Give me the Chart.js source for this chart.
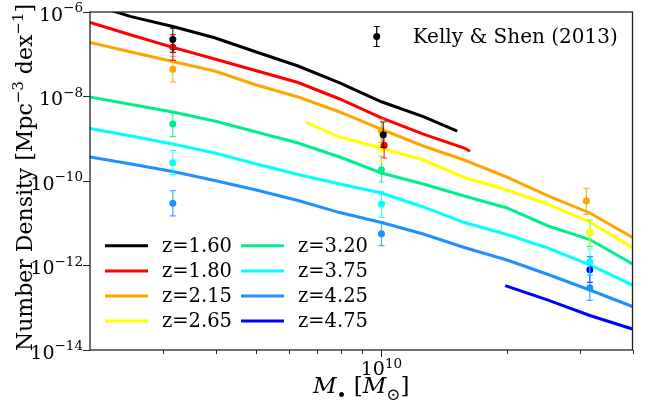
<!DOCTYPE html>
<html>
<head>
<meta charset="utf-8">
<script src="https://cdn.jsdelivr.net/npm/chart.js@4.4.1/dist/chart.umd.min.js"></script>
<style>
  html, body { margin: 0; padding: 0; background: #ffffff; }
  #wrap { width: 648px; height: 405px; }
</style>
</head>
<body>
<div id="wrap"><canvas id="c" width="648" height="405"></canvas></div>
<script>
const SERIF = "'DejaVu Serif', 'Liberation Serif', serif";

// redshift labels and line colours
const redshifts = ['z=1.60', 'z=1.80', 'z=2.15', 'z=2.65', 'z=3.20', 'z=3.75', 'z=4.25', 'z=4.75'];
const colors = ['#000000', '#ff0000', '#ffa500', '#ffff00', '#00ee8c', '#00ffff', '#1e90ff', '#0000ff'];

// model mass functions: black-hole mass [M_sun] and number density [Mpc^-3 dex^-1]
const massFull = [2.0e9, 2.51e9, 3.16e9, 3.98e9, 5.01e9, 6.31e9, 7.94e9, 1.0e10, 1.26e10, 1.58e10, 2.0e10, 2.51e10, 3.16e10, 4.0e10];
const massZ160 = [2.0e9, 2.51e9, 3.16e9, 3.98e9, 5.01e9, 6.31e9, 7.94e9, 1.0e10, 1.26e10, 1.52e10];
const densZ160 = [1.55e-6, 7.78e-7, 4.54e-7, 2.45e-7, 1.13e-7, 5.27e-8, 2.09e-8, 7.50e-9, 3.33e-9, 1.52e-9];
const massZ180 = [2.0e9, 2.51e9, 3.16e9, 3.98e9, 5.01e9, 6.31e9, 7.94e9, 1.0e10, 1.26e10, 1.58e10, 1.63e10];
const densZ180 = [5.64e-7, 2.86e-7, 1.45e-7, 7.73e-8, 4.08e-8, 2.14e-8, 8.73e-9, 3.10e-9, 1.29e-9, 6.04e-10, 5.05e-10];
const densZ215 = [1.90e-7, 1.13e-7, 6.73e-8, 4.02e-8, 1.87e-8, 9.73e-9, 4.30e-9, 1.66e-9, 6.73e-10, 3.14e-10, 1.24e-10, 4.42e-11, 1.75e-11, 4.60e-12];
const massZ265 = [6.58e9, 7.94e9, 1.0e10, 1.26e10, 1.58e10, 2.0e10, 2.51e10, 3.16e10, 4.0e10];
const densZ265 = [2.49e-9, 1.10e-9, 6.04e-10, 3.14e-10, 1.21e-10, 6.12e-11, 2.78e-11, 1.07e-11, 2.67e-12];
const densZ320 = [9.73e-9, 6.47e-9, 4.30e-9, 2.63e-9, 1.45e-9, 7.92e-10, 3.70e-10, 1.55e-10, 8.49e-11, 4.42e-11, 2.30e-11, 8.61e-12, 4.12e-12, 1.09e-12];
const densZ375 = [1.75e-9, 1.16e-9, 7.52e-10, 4.60e-10, 2.52e-10, 1.43e-10, 8.49e-11, 5.20e-11, 2.43e-11, 1.04e-11, 5.42e-12, 2.59e-12, 1.03e-12, 3.45e-13];
const densZ425 = [3.70e-10, 2.52e-10, 1.68e-10, 1.03e-10, 6.12e-11, 3.45e-11, 1.79e-11, 1.04e-11, 5.57e-12, 2.67e-12, 1.35e-12, 6.12e-13, 2.63e-13, 1.07e-13];
const massZ475 = [1.98e10, 2.51e10, 3.16e10, 4.0e10];
const densZ475 = [3.33e-13, 1.52e-13, 6.56e-14, 3.14e-14];

// Kelly & Shen (2013) measurements: mass, density, lower and upper error limits
const ksMassZ160 = [3.16e9, 1.01e10];
const ksDensZ160 = [2.23e-7, 1.25e-9];
const ksLoZ160   = [1.11e-7, 6.25e-10];
const ksHiZ160   = [4.11e-7, 2.49e-9];
const ksMassZ180 = [3.16e9, 1.015e10];
const ksDensZ180 = [1.46e-7, 7.00e-10];
const ksLoZ180   = [7.19e-8, 3.50e-10];
const ksHiZ180   = [2.90e-7, 1.40e-9];
const ksMassZ215 = [3.16e9, 1.0e10, 3.10e10];
const ksDensZ215 = [4.41e-8, 1.55e-9, 3.37e-11];
const ksLoZ215   = [2.20e-8, 8.22e-10, 1.63e-11];
const ksHiZ215   = [8.93e-8, 2.93e-9, 6.71e-11];
const ksMassZ265 = [1.0e10, 3.16e10];
const ksDensZ265 = [6.04e-10, 6.11e-12];
const ksLoZ265   = [3.0e-10, 3.0e-12];
const ksHiZ265   = [1.2e-9, 1.2e-11];
const ksMassZ320 = [3.16e9, 1.0e10, 3.16e10];
const ksDensZ320 = [2.23e-9, 1.85e-10, 6.11e-12];
const ksLoZ320   = [1.12e-9, 9.46e-11, 2.79e-12];
const ksHiZ320   = [4.30e-9, 3.85e-10, 1.19e-11];
const ksMassZ375 = [3.16e9, 1.0e10, 3.16e10];
const ksDensZ375 = [2.71e-10, 2.81e-11, 1.23e-12];
const ksLoZ375   = [1.41e-10, 1.38e-11, 5.96e-13];
const ksHiZ375   = [5.33e-10, 5.58e-11, 2.46e-12];
const ksMassZ425 = [3.16e9, 1.0e10, 3.16e10];
const ksDensZ425 = [2.96e-11, 5.66e-12, 2.99e-13];
const ksLoZ425   = [1.49e-11, 2.94e-12, 1.50e-13];
const ksHiZ425   = [5.89e-11, 1.09e-11, 5.96e-13];
const ksMassZ475 = [3.16e10];
const ksDensZ475 = [7.96e-13];
const ksLoZ475   = [4.00e-13];
const ksHiZ475   = [1.61e-12];

// axis ticks
const xMajorTicks = [1e10];
const xMinorTicks = [3e9, 4e9, 5e9, 6e9, 7e9, 8e9, 9e9, 2e10, 3e10, 4e10];
const yMajorTicks = [1e-14, 1e-12, 1e-10, 1e-8, 1e-6];

const modelMass = [massZ160, massZ180, massFull, massZ265, massFull, massFull, massFull, massZ475];
const modelDens = [densZ160, densZ180, densZ215, densZ265, densZ320, densZ375, densZ425, densZ475];
const ksMass = [ksMassZ160, ksMassZ180, ksMassZ215, ksMassZ265, ksMassZ320, ksMassZ375, ksMassZ425, ksMassZ475];
const ksDens = [ksDensZ160, ksDensZ180, ksDensZ215, ksDensZ265, ksDensZ320, ksDensZ375, ksDensZ425, ksDensZ475];
const ksLo = [ksLoZ160, ksLoZ180, ksLoZ215, ksLoZ265, ksLoZ320, ksLoZ375, ksLoZ425, ksLoZ475];
const ksHi = [ksHiZ160, ksHiZ180, ksHiZ215, ksHiZ265, ksHiZ320, ksHiZ375, ksHiZ425, ksHiZ475];

function exponentText(v) {
  return String(Math.round(Math.log10(v))).replace('-', '\u2212');
}

function withAlpha(hex, a) {
  const n = parseInt(hex.slice(1), 16);
  return `rgba(${(n >> 16) & 255},${(n >> 8) & 255},${n & 255},${a})`;
}

const datasets = [];
redshifts.forEach((z, i) => {
  datasets.push({
    type: 'line',
    label: z,
    data: modelMass[i].map((m, k) => ({ x: m, y: modelDens[i][k] })),
    borderColor: colors[i],
    backgroundColor: colors[i],
    borderWidth: 3,
    pointRadius: 0,
    pointHoverRadius: 0,
    tension: 0,
    fill: false,
    clip: 0,
    order: 2
  });
});
redshifts.forEach((z, i) => {
  datasets.push({
    type: 'scatter',
    label: 'Kelly & Shen (2013) ' + z,
    data: ksMass[i].map((m, k) => ({ x: m, y: ksDens[i][k], lo: ksLo[i][k], hi: ksHi[i][k] })),
    backgroundColor: colors[i],
    borderWidth: 0,
    pointRadius: 3.5,
    pointHoverRadius: 3.5,
    showLine: false,
    clip: false,
    order: 1,
    errColor: withAlpha(colors[i], 0.8)
  });
});

// vertical error bars with caps, placed through the chart's scales
const errorBars = {
  id: 'errorBars',
  beforeDatasetDraw(chart, args) {
    const ds = chart.data.datasets[args.index];
    if (!ds.errColor) return;
    const xs = chart.scales.x, ys = chart.scales.y, ctx = chart.ctx;
    ctx.save();
    ctx.strokeStyle = ds.errColor;
    ctx.lineWidth = 1.2;
    ds.data.forEach(p => {
      const px = xs.getPixelForValue(p.x);
      const yl = ys.getPixelForValue(p.lo), yh = ys.getPixelForValue(p.hi);
      ctx.beginPath();
      ctx.moveTo(px, yl); ctx.lineTo(px, yh);
      ctx.moveTo(px - 3, yl); ctx.lineTo(px + 3, yl);
      ctx.moveTo(px - 3, yh); ctx.lineTo(px + 3, yh);
      ctx.stroke();
    });
    ctx.restore();
  }
};

// draws a run of text pieces, each with its own font and vertical shift
function drawRuns(ctx, parts, x, y) {
  parts.forEach(p => {
    ctx.font = p.f;
    ctx.fillText(p.t, x, y + p.dy);
    x += ctx.measureText(p.t).width;
  });
}
function runsWidth(ctx, parts) {
  let w = 0;
  parts.forEach(p => { ctx.font = p.f; w += ctx.measureText(p.t).width; });
  return w;
}

// tick labels in 10^n form, frame, minor ticks, legends and axis titles
const decorations = {
  id: 'decorations',
  afterDatasetsDraw(chart) {
    const ctx = chart.ctx, a = chart.chartArea, xs = chart.scales.x, ys = chart.scales.y;
    const tickMain = `19px ${SERIF}`, tickSup = `13.5px ${SERIF}`;
    ctx.save();
    ctx.fillStyle = '#000';
    ctx.textBaseline = 'alphabetic';
    ctx.textAlign = 'left';

    // y tick labels
    yMajorTicks.forEach(v => {
      const py = ys.getPixelForValue(v);
      const parts = [{ t: '10', f: tickMain, dy: 0 }, { t: exponentText(v), f: tickSup, dy: -8.5 }];
      const w = runsWidth(ctx, parts);
      drawRuns(ctx, parts, a.left - 7 - w, py + 8.5);
    });
    // x tick labels
    xMajorTicks.forEach(v => {
      const px = xs.getPixelForValue(v);
      const parts = [{ t: '10', f: tickMain, dy: 0 }, { t: exponentText(v), f: tickSup, dy: -7.5 }];
      const w = runsWidth(ctx, parts);
      drawRuns(ctx, parts, px - w / 2, 375);
    });

    // minor ticks on the mass axis
    ctx.strokeStyle = '#222';
    ctx.lineWidth = 1;
    xMinorTicks.forEach(v => {
      const px = Math.round(xs.getPixelForValue(v)) + 0.5;
      ctx.beginPath(); ctx.moveTo(px, a.bottom); ctx.lineTo(px, a.bottom + 4); ctx.stroke();
    });
    // axes frame
    ctx.lineWidth = 1.3;
    ctx.strokeStyle = '#222';
    ctx.strokeRect(a.left, a.top, a.right - a.left, a.bottom - a.top);

    // redshift legend, two columns
    ctx.font = `19.5px ${SERIF}`;
    ctx.textBaseline = 'middle';
    const rows = [245.7, 271, 296, 321];
    const cols = [{ x0: 105, x1: 148, tx: 162 }, { x0: 241, x1: 284, tx: 298 }];
    redshifts.forEach((z, i) => {
      const c = cols[Math.floor(i / 4)], y = rows[i % 4];
      ctx.strokeStyle = colors[i];
      ctx.lineWidth = 3;
      ctx.beginPath(); ctx.moveTo(c.x0, y); ctx.lineTo(c.x1, y); ctx.stroke();
      ctx.fillText(z, c.tx, y + 1);
    });

    // data legend
    const mx = 376.7, my = 36.5;
    ctx.strokeStyle = '#000';
    ctx.lineWidth = 1.2;
    ctx.beginPath();
    ctx.moveTo(mx, 26.5); ctx.lineTo(mx, 46.5);
    ctx.moveTo(mx - 3, 26.5); ctx.lineTo(mx + 3, 26.5);
    ctx.moveTo(mx - 3, 46.5); ctx.lineTo(mx + 3, 46.5);
    ctx.stroke();
    ctx.beginPath(); ctx.arc(mx, my, 3.5, 0, Math.PI * 2); ctx.fill();
    ctx.font = `20px ${SERIF}`;
    ctx.fillText('Kelly & Shen (2013)', 412.7, 38);

    // y-axis title with superscripts
    const main = `22px ${SERIF}`, small = `15px ${SERIF}`;
    const yParts = [
      { t: 'Number Density [Mpc', f: main, dy: 0 },
      { t: '\u22123', f: small, dy: -9 },
      { t: ' dex', f: main, dy: 0 },
      { t: '\u22121', f: small, dy: -9 },
      { t: ']', f: main, dy: 0 }
    ];
    ctx.save();
    ctx.translate(32, 177.5);
    ctx.rotate(-Math.PI / 2);
    ctx.textBaseline = 'alphabetic';
    drawRuns(ctx, yParts, -runsWidth(ctx, yParts) / 2, 0);
    ctx.restore();

    // x-axis title: M_bullet [M_sun]
    const xMain = `23px ${SERIF}`, xIt = `italic 23px ${SERIF}`, xSub = `17px ${SERIF}`;
    const xParts = [
      { t: 'M', f: xIt, dy: 0 },
      { t: '\u2022', f: xSub, dy: 8 },
      { t: ' [', f: xMain, dy: 0 },
      { t: 'M', f: xIt, dy: 0 },
      { t: '\u2299', f: xSub, dy: 7 },
      { t: ']', f: xMain, dy: 0 }
    ];
    ctx.textBaseline = 'alphabetic';
    drawRuns(ctx, xParts, (a.left + a.right) / 2 - runsWidth(ctx, xParts) / 2, 393);
    ctx.restore();
  }
};

Chart.defaults.font.family = SERIF;
Chart.defaults.color = '#000';

new Chart(document.getElementById('c'), {
  data: { datasets },
  options: {
    responsive: false,
    animation: false,
    devicePixelRatio: 1,
    layout: { padding: { left: 0, top: 12, right: 15.5, bottom: 0 } },
    plugins: { legend: { display: false }, tooltip: { enabled: false }, title: { display: false } },
    events: [],
    scales: {
      x: {
        type: 'logarithmic',
        min: 2e9,
        max: 4e10,
        afterFit(s) { s.height = 55; },
        afterBuildTicks(s) { s.ticks = xMajorTicks.map(v => ({ value: v, major: true })); },
        border: { display: false },
        grid: { display: true, drawOnChartArea: false, drawTicks: true, tickLength: 7, tickColor: '#222', tickWidth: 1 },
        ticks: { display: false, autoSkip: false }
      },
      y: {
        type: 'logarithmic',
        min: 1e-14,
        max: 1e-6,
        afterFit(s) { s.width = 90; },
        afterBuildTicks(s) { s.ticks = yMajorTicks.map(v => ({ value: v, major: true })); },
        border: { display: false },
        grid: { display: true, drawOnChartArea: false, drawTicks: true, tickLength: 7, tickColor: '#222', tickWidth: 1 },
        ticks: { display: false, autoSkip: false }
      }
    }
  },
  plugins: [errorBars, decorations]
});
</script>
</body>
</html>
